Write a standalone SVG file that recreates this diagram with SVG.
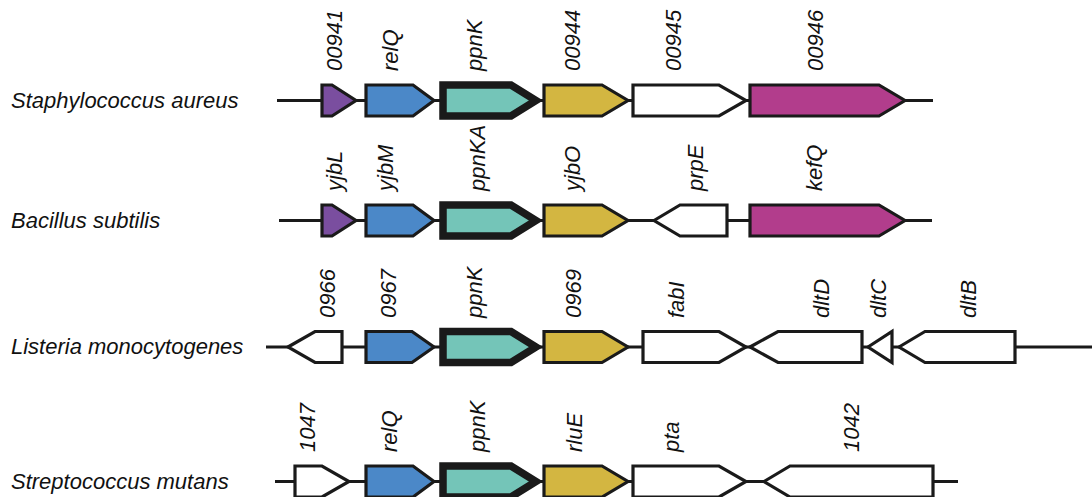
<svg xmlns="http://www.w3.org/2000/svg" width="1092" height="497" viewBox="0 0 1092 497">
<style>
.sp{font-family:"Liberation Sans",Arial,sans-serif;font-style:italic;font-size:22px;fill:#111}
.gl{font-family:"Liberation Sans",Arial,sans-serif;font-style:italic;font-size:22px;fill:#111}
.g{stroke:#1a1a1a;stroke-width:3.2;stroke-linejoin:miter;stroke-miterlimit:10}
.k{stroke:#1a1a1a;stroke-width:7.5;stroke-linejoin:miter;stroke-miterlimit:10;fill:#74c5b8}
.ln{stroke:#1a1a1a;stroke-width:3;fill:none}
.pu{fill:#7a4e9f}.bl{fill:#4b88c8}.go{fill:#d3b641}.ma{fill:#b23d8c}.wh{fill:#fff}
</style>
<rect width="1092" height="497" fill="#fff"/>
<g id="connectors">
<line class="ln" x1="277" y1="100.5" x2="933" y2="100.5"/>
<line class="ln" x1="279" y1="220.5" x2="932" y2="220.5"/>
<line class="ln" x1="266" y1="347" x2="1092" y2="347"/>
<line class="ln" x1="275" y1="481.5" x2="958" y2="481.5"/>
</g>
<g id="species">
<text class="sp" x="11" y="108">Staphylococcus aureus</text>
<text class="sp" x="11" y="228">Bacillus subtilis</text>
<text class="sp" x="11" y="354">Listeria monocytogenes</text>
<text class="sp" x="11" y="489">Streptococcus mutans</text>
</g>
<!-- Row 1 -->
<g id="sa-00941"><polygon class="g pu" points="322,85 332,85 356,100.5 332,116 322,116"/><text class="gl" transform="translate(342,71) rotate(-90)">00941</text></g>
<g id="sa-relQ"><polygon class="g bl" points="366,85 413,85 434,100.5 413,116 366,116"/><text class="gl" transform="translate(398,71) rotate(-90)">relQ</text></g>
<g id="sa-ppnK"><polygon class="k" points="443,85 511,85 536,100.5 511,116 443,116"/><text class="gl" transform="translate(482,71) rotate(-90)">ppnK</text></g>
<g id="sa-00944"><polygon class="g go" points="544,85 602,85 628,100.5 602,116 544,116"/><text class="gl" transform="translate(580,71) rotate(-90)">00944</text></g>
<g id="sa-00945"><polygon class="g wh" points="633,85 719,85 746,100.5 719,116 633,116"/><text class="gl" transform="translate(681,71) rotate(-90)">00945</text></g>
<g id="sa-00946"><polygon class="g ma" points="750,85 879,85 905,100.5 879,116 750,116"/><text class="gl" transform="translate(823,71) rotate(-90)">00946</text></g>
<!-- Row 2 -->
<g id="bs-yjbL"><polygon class="g pu" points="322,205 332,205 356,220.5 332,236 322,236"/><text class="gl" transform="translate(342,191) rotate(-90)">yjbL</text></g>
<g id="bs-yjbM"><polygon class="g bl" points="366,205 413,205 434,220.5 413,236 366,236"/><text class="gl" transform="translate(393,191) rotate(-90)">yjbM</text></g>
<g id="bs-ppnKA"><polygon class="k" points="443,205 511,205 536,220.5 511,236 443,236"/><text class="gl" transform="translate(485,191) rotate(-90)">ppnKA</text></g>
<g id="bs-yjbO"><polygon class="g go" points="544,205 602,205 628,220.5 602,236 544,236"/><text class="gl" transform="translate(580,191) rotate(-90)">yjbO</text></g>
<g id="bs-prpE"><polygon class="g wh" points="654,220.5 680,205 727,205 727,236 680,236"/><text class="gl" transform="translate(703,191) rotate(-90)">prpE</text></g>
<g id="bs-kefQ"><polygon class="g ma" points="750,205 879,205 905,220.5 879,236 750,236"/><text class="gl" transform="translate(822,191) rotate(-90)">kefQ</text></g>
<!-- Row 3 -->
<g id="lm-0966"><polygon class="g wh" points="288,347 315,331.5 342,331.5 342,362.5 315,362.5"/><text class="gl" transform="translate(335,318) rotate(-90)">0966</text></g>
<g id="lm-0967"><polygon class="g bl" points="366,331.5 412,331.5 434,347 412,362.5 366,362.5"/><text class="gl" transform="translate(396,318) rotate(-90)">0967</text></g>
<g id="lm-ppnK"><polygon class="k" points="443,331.5 511,331.5 536,347 511,362.5 443,362.5"/><text class="gl" transform="translate(482,318) rotate(-90)">ppnK</text></g>
<g id="lm-0969"><polygon class="g go" points="544,331.5 602,331.5 628,347 602,362.5 544,362.5"/><text class="gl" transform="translate(581,318) rotate(-90)">0969</text></g>
<g id="lm-fabI"><polygon class="g wh" points="643,331.5 719,331.5 746,347 719,362.5 643,362.5"/><text class="gl" transform="translate(684,318) rotate(-90)">fabI</text></g>
<g id="lm-dltD"><polygon class="g wh" points="750,347 778,331.5 862,331.5 862,362.5 778,362.5"/><text class="gl" transform="translate(829,318) rotate(-90)">dltD</text></g>
<g id="lm-dltC"><polygon class="g wh" points="868,347 892,331.5 892,362.5"/><text class="gl" transform="translate(886,318) rotate(-90)">dltC</text></g>
<g id="lm-dltB"><polygon class="g wh" points="899,347 925,331.5 1015,331.5 1015,362.5 925,362.5"/><text class="gl" transform="translate(976,318) rotate(-90)">dltB</text></g>
<!-- Row 4 -->
<g id="sm-1047"><polygon class="g wh" points="295,466 322,466 349,481.5 322,497 295,497"/><text class="gl" transform="translate(315,452) rotate(-90)">1047</text></g>
<g id="sm-relQ"><polygon class="g bl" points="366,466 413,466 434,481.5 413,497 366,497"/><text class="gl" transform="translate(397,452) rotate(-90)">relQ</text></g>
<g id="sm-ppnK"><polygon class="k" points="443,466 511,466 536,481.5 511,497 443,497"/><text class="gl" transform="translate(485,452) rotate(-90)">ppnK</text></g>
<g id="sm-rluE"><polygon class="g go" points="544,466 602,466 628,481.5 602,497 544,497"/><text class="gl" transform="translate(582,452) rotate(-90)">rluE</text></g>
<g id="sm-pta"><polygon class="g wh" points="633,466 719,466 746,481.5 719,497 633,497"/><text class="gl" transform="translate(679,452) rotate(-90)">pta</text></g>
<g id="sm-1042"><polygon class="g wh" points="764,481.5 790,466 933,466 933,497 790,497"/><text class="gl" transform="translate(859,452) rotate(-90)">1042</text></g>
</svg>
